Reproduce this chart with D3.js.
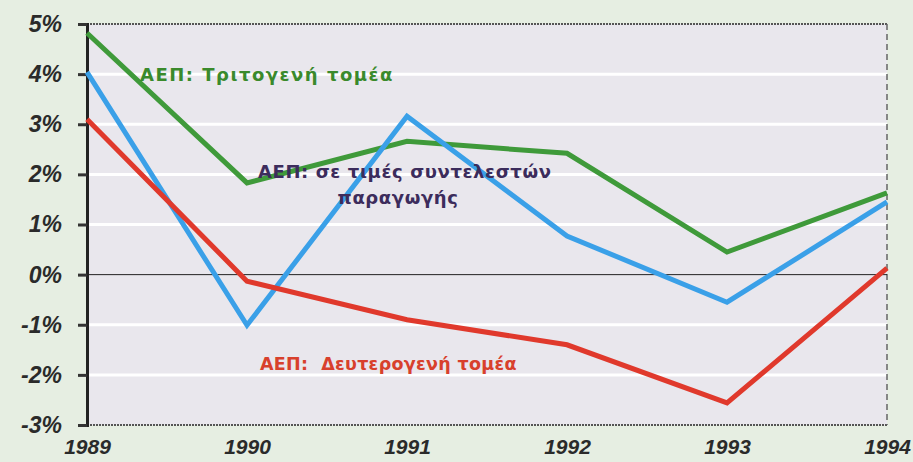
<!DOCTYPE html>
<html>
<head>
<meta charset="utf-8">
<script src="https://cdn.jsdelivr.net/npm/d3@7"></script>
<style>
	body { margin: 0; background: #e6eee2; }
	svg { display: block; }
	.tick-y, .tick-x { font-family: "Liberation Sans", Arial, sans-serif; font-weight: bold; font-style: italic; fill: #2a2a2a; }
	.note { font-family: "DejaVu Sans", sans-serif; font-weight: bold; }
</style>
</head>
<body>
<svg id="chart" width="913" height="462"></svg>
<script>
// Данные
var years = [1989, 1990, 1991, 1992, 1993, 1994];
var tertiary = [4.82, 1.83, 2.66, 2.42, 0.45, 1.63];
var factorCost = [4.04, -1.01, 3.16, 0.77, -0.55, 1.45];
var secondary = [3.1, -0.13, -0.9, -1.4, -2.56, 0.13];
var yTicks = [5, 4, 3, 2, 1, 0, -1, -2, -3];

var svg = d3.select("#chart");
var margin = {top: 24, right: 26, bottom: 37, left: 87},
	width = 913 - margin.left - margin.right,
	height = 462 - margin.top - margin.bottom;

var g = svg.append("g")
	.attr("transform", "translate(" + margin.left + "," + margin.top + ")");

// Шкалы
var x = d3.scaleLinear().domain([1989, 1994]).range([0, width]);
var y = d3.scaleLinear().domain([-3, 5]).range([height, 0]);

// Фон области графика
g.append("rect")
	.attr("width", width)
	.attr("height", height)
	.attr("fill", "#e9e7ed");

// Белые линии сетки
g.selectAll(".grid")
	.data(yTicks.filter(function(d) { return d !== 0 && d !== 5 && d !== -3; }))
	.enter().append("line")
	.attr("x1", 0).attr("x2", width)
	.attr("y1", function(d) { return y(d); })
	.attr("y2", function(d) { return y(d); })
	.attr("stroke", "#ffffff")
	.attr("stroke-width", 3);

// Рамка: верх, низ и правая сторона
g.append("line").attr("x1", 0).attr("x2", width).attr("y1", 0).attr("y2", 0)
	.attr("stroke", "#555").attr("stroke-width", 2).attr("stroke-dasharray", "2,1");
g.append("line").attr("x1", 0).attr("x2", width).attr("y1", height).attr("y2", height)
	.attr("stroke", "#555").attr("stroke-width", 2).attr("stroke-dasharray", "2,1");
g.append("line").attr("x1", width).attr("x2", width).attr("y1", 0).attr("y2", height)
	.attr("stroke", "#666").attr("stroke-width", 1.5).attr("stroke-dasharray", "6,4");

// Нулевая линия
g.append("line")
	.attr("x1", 0).attr("x2", width)
	.attr("y1", y(0)).attr("y2", y(0))
	.attr("stroke", "#222").attr("stroke-width", 1);

// Ось Y
var yAxis = d3.axisLeft(y).tickValues(yTicks).tickSize(9).tickPadding(16)
	.tickFormat(function(d) { return d + "%"; });
var ya = g.append("g").call(yAxis);
ya.select(".domain").attr("stroke", "#222").attr("stroke-width", 3);
ya.selectAll(".tick line").attr("stroke", "#333").attr("stroke-width", 3);
ya.selectAll(".tick text").attr("class", "tick-y").attr("font-size", 23);

// Ось X (только подписи)
var xAxis = d3.axisBottom(x).tickValues(years).tickSize(0).tickPadding(14)
	.tickFormat(d3.format("d"));
var xa = g.append("g").attr("transform", "translate(0," + height + ")").call(xAxis);
xa.select(".domain").remove();
xa.selectAll(".tick text").attr("class", "tick-x").attr("font-size", 21);

// Линии
var line = d3.line()
	.x(function(d, i) { return x(years[i]); })
	.y(function(d) { return y(d); });

var series = [
	{values: tertiary, color: "#3f9a3a"},
	{values: factorCost, color: "#3aa0e8"},
	{values: secondary, color: "#e0392c"}
];

g.selectAll(".series")
	.data(series)
	.enter().append("path")
	.attr("d", function(d) { return line(d.values); })
	.attr("fill", "none")
	.attr("stroke", function(d) { return d.color; })
	.attr("stroke-width", 5)
	.attr("stroke-linejoin", "miter");

// Подписи
svg.append("text").attr("class", "note").attr("x", 140).attr("y", 81)
	.attr("font-size", 18).attr("letter-spacing", 1.5)
	.attr("fill", "#3a8a2c").text("ΑΕΠ: Τριτογενή τομέα");
svg.append("text").attr("class", "note").attr("x", 258).attr("y", 178)
	.attr("font-size", 18).attr("letter-spacing", 0.6)
	.attr("fill", "#3c2c5c").text("ΑΕΠ: σε τιμές συντελεστών");
svg.append("text").attr("class", "note").attr("x", 398).attr("y", 204)
	.attr("font-size", 18).attr("letter-spacing", 0.6)
	.attr("text-anchor", "middle")
	.attr("fill", "#3c2c5c").text("παραγωγής");
svg.append("text").attr("class", "note").attr("x", 260).attr("y", 370)
	.attr("font-size", 17.5).attr("letter-spacing", 0.3)
	.attr("fill", "#d8402c").attr("xml:space", "preserve").text("ΑΕΠ:  Δευτερογενή τομέα");
</script>
</body>
</html>
